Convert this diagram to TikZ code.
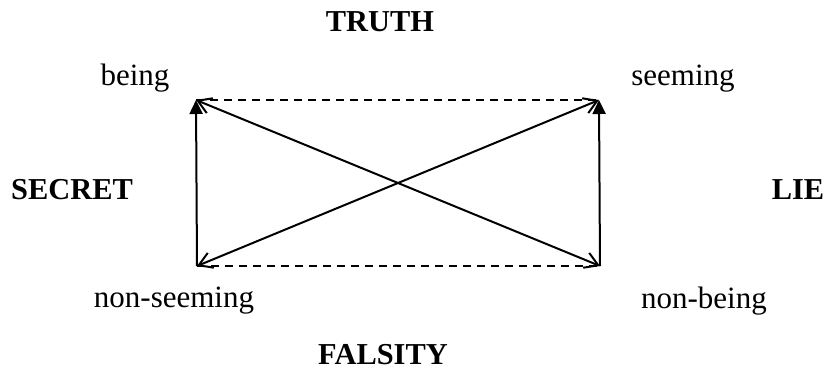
\documentclass[tikz,border=0pt]{standalone}
\usepackage{fontspec}
\setmainfont{Liberation Serif}
\usetikzlibrary{arrows.meta}

\begin{document}
\begin{tikzpicture}[x=0.5pt, y=-0.5pt,
  term/.style={font=\fontsize{15.5}{18}\selectfont, inner sep=0pt},
  pole/.style={font=\fontsize{15.2}{18}\selectfont\bfseries, inner sep=0pt},
  side/.style={line width=1pt, -{Triangle[length=7pt, width=6.5pt]}},
  cross/.style={line width=1pt, {Straight Barb[length=6.5pt, width=8pt]}-{Straight Barb[length=6.5pt, width=8pt]}},
  link/.style={line width=0.7pt, dash pattern=on 4pt off 3pt}]
\useasboundingbox (0,0) rectangle (826,370);

% Corners of the square
\coordinate (tl) at (196,100);
\coordinate (tr) at (599,100);
\coordinate (bl) at (197,266);
\coordinate (br) at (600,266);

% Terms
\node[term] (being) at (135,78) {being};
\node[term] (seeming) at (683,79) {seeming};
\node[term] (nonseeming) at (174,301) {non-seeming};
\node[term] (nonbeing) at (704,301) {non-being};

% Poles
\node[pole] (truth) at (380,22) {TRUTH};
\node[pole] (falsity) at (383,355) {FALSITY};
\node[pole] (secret) at (72,190) {SECRET};
\node[pole] (lie) at (798,190) {LIE};

% Dashed links
\draw[link] (tl) -- (tr);
\draw[link] (bl) -- (br);

% Sides
\draw[side] (bl) -- (tl);
\draw[side] (br) -- (tr);

% Diagonals
\draw[cross] (br) -- (tl);
\draw[cross] (bl) -- (tr);
\end{tikzpicture}
\end{document}
